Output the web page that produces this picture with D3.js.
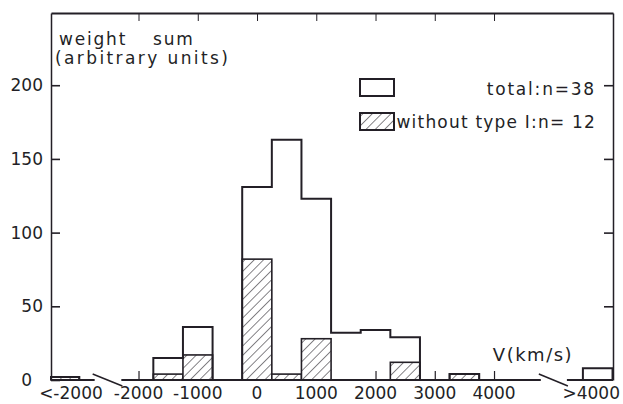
<!DOCTYPE html>
<html>
<head>
<meta charset="utf-8">
<script src="https://cdn.jsdelivr.net/npm/d3@7/dist/d3.min.js"></script>
<style>
  html, body { margin: 0; padding: 0; background: #fff; }
  svg { display: block; }
  text { font-family: "DejaVu Sans", sans-serif; fill: #231f26; }
</style>
</head>
<body>
<svg id="chart" width="623" height="404"></svg>
<script>
// Velocity bins (centre, km/s); the first and last bins collect everything beyond the axis range
const binCenters = [-3250, -1500, -1000, 0, 500, 1000, 1500, 2000, 2500, 3500, 5750];
const binWidth = 500;
// Weight sums per bin
const totalSums = [2, 15, 36, 131, 163, 123, 32, 34, 29, 4, 8];
const withoutTypeISums = [2, 4, 17, 82, 4, 28, 0, 0, 12, 4, 0];

// Axis ticks and labels
const yTicks = [0, 50, 100, 150, 200];
const xTicks = [-2000, -1000, 0, 1000, 2000, 3000, 4000];
const xLabelValues = [-3140, -2000, -1000, 0, 1000, 2000, 3000, 4000, 5640];
const xLabelTexts = ["<-2000", "-2000", "-1000", "0", "1000", "2000", "3000", "4000", ">4000"];
const legendTexts = ["total:n=38", "without type I:n= 12"];

const ink = "#231f26";
const svg = d3.select("#chart");

const x = d3.scaleLinear().domain([-3477, 6008]).range([51, 613]);
const y = d3.scaleLinear().domain([0, 249]).range([380, 13]);
const [xMin, xMax] = x.domain();

// hatch pattern for the "without type I" bars
const defs = svg.append("defs");
const pat = defs.append("pattern")
  .attr("id", "hatch")
  .attr("patternUnits", "userSpaceOnUse")
  .attr("width", 6.6).attr("height", 6.6)
  .attr("patternTransform", "rotate(45)");
pat.append("rect").attr("width", 6.6).attr("height", 6.6).attr("fill", "#fff");
pat.append("line").attr("x1", 0).attr("y1", 0).attr("x2", 0).attr("y2", 6.6)
  .attr("stroke", ink).attr("stroke-width", 1.1);

const bins = binCenters.map((c, i) => ({
  x0: Math.max(c - binWidth / 2, xMin),
  x1: Math.min(c + binWidth / 2, xMax),
  total: totalSums[i],
  sub: withoutTypeISums[i]
}));

// frame: top axis (ticks pointing down), left axis with labels, right axis
svg.append("g").attr("transform", `translate(0,${y.range()[1]})`)
  .call(d3.axisBottom(x).tickValues(xTicks).tickSizeInner(8).tickSizeOuter(0).tickFormat(""))
  .call(g => g.select(".domain").attr("stroke-width", 2));

svg.append("g").attr("transform", `translate(${x.range()[0]},0)`)
  .call(d3.axisLeft(y).tickValues(yTicks).tickSizeInner(-9).tickSizeOuter(0).tickPadding(8))
  .call(g => g.select(".domain").attr("stroke-width", 1.5))
  .call(g => g.selectAll(".tick line").attr("stroke-width", 1.6))
  .call(g => g.selectAll(".tick text")
    .style("font-size", "17px").style("font-family", "DejaVu Sans").attr("fill", ink)
    .attr("x", d => d === 0 ? -19 : -8));

svg.append("g").attr("transform", `translate(${x.range()[1]},0)`)
  .call(d3.axisRight(y).tickValues(yTicks.filter(v => v > 0)).tickSizeInner(-9).tickSizeOuter(0).tickFormat(""))
  .call(g => g.select(".domain").attr("stroke-width", 1.5))
  .call(g => g.selectAll(".tick line").attr("stroke-width", 1.6));

// bottom ticks pointing up from the baseline
svg.append("g").attr("transform", `translate(0,${y(0)})`)
  .call(d3.axisTop(x).tickValues(xTicks).tickSizeInner(9).tickSizeOuter(0).tickFormat(""))
  .call(g => g.select(".domain").remove())
  .call(g => g.selectAll(".tick line").attr("stroke-width", 1.2));

svg.selectAll("path, line").filter(function () { return !this.closest("pattern"); })
  .attr("stroke", ink);

// hatched bars
svg.append("g").selectAll("rect")
  .data(bins.filter(b => b.sub > 0))
  .join("rect")
  .attr("x", b => x(b.x0))
  .attr("y", b => y(b.sub))
  .attr("width", b => x(b.x1) - x(b.x0))
  .attr("height", b => y(0) - y(b.sub))
  .attr("fill", "url(#hatch)")
  .attr("stroke", ink).attr("stroke-width", 1.6);

// total histogram as a step outline over contiguous bins
const groups = [];
bins.forEach(b => {
  if (b.total <= 0) return;
  const last = groups[groups.length - 1];
  if (last && Math.abs(last[last.length - 1].x1 - b.x0) < 1e-6) last.push(b);
  else groups.push([b]);
});
groups.forEach(gr => {
  const p = d3.path();
  p.moveTo(x(gr[0].x0), y(0));
  gr.forEach(b => { p.lineTo(x(b.x0), y(b.total)); p.lineTo(x(b.x1), y(b.total)); });
  p.lineTo(x(gr[gr.length - 1].x1), y(0));
  svg.append("path").attr("d", p.toString())
    .attr("fill", "none").attr("stroke", ink).attr("stroke-width", 2);
});

// broken baseline with break marks
const breaks = [[-2740, -2290], [4790, 5230]];
const segs = [[xMin, breaks[0][0]], [breaks[0][1], breaks[1][0]], [breaks[1][1], xMax]];
svg.append("g").selectAll("line").data(segs).join("line")
  .attr("x1", d => x(d[0])).attr("x2", d => x(d[1]))
  .attr("y1", y(0)).attr("y2", y(0))
  .attr("stroke", ink).attr("stroke-width", 2);
svg.append("g").selectAll("line").data(breaks).join("line")
  .attr("x1", d => x(d[0]) - 2).attr("y1", y(0) - 6)
  .attr("x2", d => x(d[1]) + 1).attr("y2", y(0) + 6)
  .attr("stroke", ink).attr("stroke-width", 1.5);

// x labels
svg.append("g").selectAll("text").data(xLabelValues).join("text")
  .attr("x", d => x(d)).attr("y", 399)
  .attr("text-anchor", "middle")
  .style("font-size", "17px")
  .text((d, i) => xLabelTexts[i]);

svg.append("text").attr("x", 533).attr("y", 361).attr("text-anchor", "middle")
  .style("font-size", "18px").style("letter-spacing", "1.5px").text("V(km/s)");

// y axis title
const title = svg.append("text").style("font-size", "17px").style("letter-spacing", "1.8px");
title.append("tspan").attr("x", 59).attr("y", 45).text("weight");
title.append("tspan").attr("x", 153).attr("y", 45).text("sum");
svg.append("text").attr("x", 55).attr("y", 64)
  .style("font-size", "17px").style("letter-spacing", "2.4px").text("(arbitrary units)");

// legend
const legend = svg.append("g");
legend.append("rect").attr("x", 360).attr("y", 79).attr("width", 34).attr("height", 17)
  .attr("fill", "#fff").attr("stroke", ink).attr("stroke-width", 2);
legend.append("rect").attr("x", 360).attr("y", 113).attr("width", 34).attr("height", 17)
  .attr("fill", "url(#hatch)").attr("stroke", ink).attr("stroke-width", 2);
legend.append("text").attr("x", 596).attr("y", 95).attr("text-anchor", "end")
  .style("font-size", "17px").style("letter-spacing", "1.8px").text(legendTexts[0]);
legend.append("text").attr("x", 596).attr("y", 128).attr("text-anchor", "end")
  .style("font-size", "17px").style("letter-spacing", "1.2px").text(legendTexts[1]);
</script>
</body>
</html>
